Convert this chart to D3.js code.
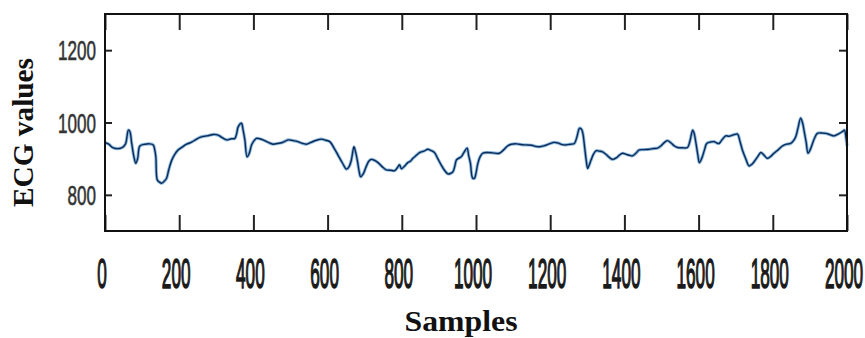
<!DOCTYPE html>
<html>
<head>
<meta charset="utf-8">
<script src="https://cdn.jsdelivr.net/npm/d3@7"></script>
<style>
  html, body { margin: 0; padding: 0; background: #ffffff; }
  svg { display: block; }
</style>
</head>
<body>
<div id="chart"></div>
<script>
// ---- data ----
const sampleIdx = [0,10,22,45,55,63,67,72,78,83,88,94,108,120,130,134,137,141,147,153,160,166,172,180,188,197,208,220,232,244,256,268,280,292,305,316,328,340,350,355,359,368,372,377,383,389,395,402,408,417,426,440,453,465,476,485,494,507,520,530,543,555,570,583,595,606,617,628,640,651,658,664,671,675,680,685,689,696,704,711,718,727,736,747,758,770,781,788,794,799,808,816,823,830,840,848,860,870,878,888,897,906,915,924,931,938,943,947,953,960,968,976,980,985,991,996,1000,1005,1011,1018,1030,1045,1063,1075,1085,1095,1110,1122,1135,1150,1160,1171,1185,1198,1211,1222,1232,1243,1255,1265,1272,1279,1284,1288,1293,1297,1301,1305,1310,1317,1324,1332,1341,1350,1360,1368,1378,1387,1395,1405,1415,1422,1431,1440,1452,1467,1478,1489,1498,1508,1516,1525,1535,1543,1556,1570,1577,1584,1588,1593,1598,1602,1606,1610,1616,1622,1632,1642,1648,1655,1663,1673,1682,1691,1698,1705,1711,1718,1727,1736,1743,1750,1759,1768,1776,1785,1794,1803,1815,1826,1837,1848,1856,1862,1868,1875,1880,1884,1890,1895,1901,1907,1913,1920,1932,1943,1955,1965,1976,1988,1993,1997,2000];
const ecgValues = [945,940,930,930,940,979,975,942,905,887,900,935,940,941,938,925,905,841,835,832,838,846,870,896,912,924,932,940,945,952,959,962,964,967,965,958,952,955,956,970,988,998,980,952,905,915,938,950,956,955,952,945,940,942,944,948,952,950,947,943,940,945,951,954,951,947,930,910,888,871,878,896,933,920,896,865,850,858,878,893,898,895,889,878,869,868,867,875,883,872,880,889,893,901,910,917,921,926,923,917,900,883,868,858,859,864,880,896,901,905,918,929,910,887,846,846,860,887,905,915,917,916,915,925,935,940,941,939,938,937,934,933,936,941,945,943,939,938,940,942,960,984,982,970,930,896,873,882,896,913,922,921,919,912,903,898,902,910,915,912,909,908,915,924,925,926,928,929,935,945,950,944,935,931,930,931,950,979,970,942,910,889,895,905,925,942,946,947,944,942,952,963,962,965,967,968,950,924,900,880,884,892,905,917,910,901,906,915,925,935,940,942,950,961,985,1012,1000,979,945,915,925,942,958,970,971,970,966,963,968,975,979,960,935];
const xTicks = [0,200,400,600,800,1000,1200,1400,1600,1800,2000];
const yTicks = [800,1000,1200];
const xDomain = [0, 2000];
const yDomain = [700, 1300];
const xTitle = "Samples";
const yTitle = "ECG values";

// ---- layout ----
const W = 865, H = 338;
const plot = { left: 105, right: 847, top: 14, bottom: 231 };

const svg = d3.select("#chart").append("svg")
  .attr("width", W).attr("height", H);

const x = d3.scaleLinear().domain(xDomain).range([plot.left, plot.right]);
const y = d3.scaleLinear().domain(yDomain).range([plot.bottom, plot.top]);

const data = sampleIdx.map((s, i) => ({ s, v: ecgValues[i] }));

// ticks (inward, all four sides)
const tickColor = "#222";
svg.append("g").attr("transform", `translate(0,${plot.bottom})`)
  .call(d3.axisBottom(x).tickValues(xTicks).tickSizeInner(-16).tickSizeOuter(0).tickFormat(""))
  .call(g => { g.select(".domain").remove(); g.selectAll("line").attr("stroke", tickColor).attr("stroke-width", 2); });
svg.append("g").attr("transform", `translate(0,${plot.top})`)
  .call(d3.axisTop(x).tickValues(xTicks).tickSizeInner(-16).tickSizeOuter(0).tickFormat(""))
  .call(g => { g.select(".domain").remove(); g.selectAll("line").attr("stroke", tickColor).attr("stroke-width", 2); });
svg.append("g").attr("transform", `translate(${plot.left},0)`)
  .call(d3.axisLeft(y).tickValues(yTicks).tickSizeInner(-7).tickSizeOuter(0).tickFormat(""))
  .call(g => { g.select(".domain").remove(); g.selectAll("line").attr("stroke", tickColor).attr("stroke-width", 2); });
svg.append("g").attr("transform", `translate(${plot.right},0)`)
  .call(d3.axisRight(y).tickValues(yTicks).tickSizeInner(-8).tickSizeOuter(0).tickFormat(""))
  .call(g => { g.select(".domain").remove(); g.selectAll("line").attr("stroke", tickColor).attr("stroke-width", 2); });

// ECG line (soft blue halo + dark navy core)
const line = d3.line().x(d => x(d.s)).y(d => y(d.v)).curve(d3.curveCatmullRom.alpha(0.5));
svg.append("path").datum(data).attr("d", line)
  .attr("fill", "none").attr("stroke", "#5f9fd3").attr("stroke-width", 3.2)
  .attr("stroke-opacity", 0.75).attr("stroke-linejoin", "round");
svg.append("path").datum(data).attr("d", line)
  .attr("fill", "none").attr("stroke", "#0d2a57").attr("stroke-width", 1.4)
  .attr("stroke-linejoin", "round");

// frame
svg.append("rect")
  .attr("x", plot.left).attr("y", plot.top)
  .attr("width", plot.right - plot.left).attr("height", plot.bottom - plot.top)
  .attr("fill", "none").attr("stroke", "#111").attr("stroke-width", 2);

// x tick labels (tall condensed)
const labelFont = "'Liberation Sans', Arial, sans-serif";
svg.append("g").selectAll("g").data(xTicks).join("g")
  .attr("transform", d => `translate(${x(d) - 3},288)`)
  .append("text")
  .attr("transform", "scale(0.40,1)")
  .attr("text-anchor", "middle")
  .attr("font-family", labelFont).attr("font-size", 43)
  .attr("fill", "#1a1a1a").attr("stroke", "#1a1a1a").attr("stroke-width", 1.6)
  .text(d => d);

// y tick labels
svg.append("g").selectAll("g").data(yTicks).join("g")
  .attr("transform", d => `translate(96,${y(d) + 10})`)
  .append("text")
  .attr("transform", "scale(0.61,1)")
  .attr("text-anchor", "end")
  .attr("font-family", labelFont).attr("font-size", 28)
  .attr("fill", "#333").attr("stroke", "#333").attr("stroke-width", 0.6)
  .text(d => d);

// axis titles
const titleFont = "'Liberation Serif', 'Times New Roman', serif";
svg.append("text")
  .attr("x", 461).attr("y", 331)
  .attr("text-anchor", "middle")
  .attr("font-family", titleFont).attr("font-weight", "bold").attr("font-size", 30)
  .attr("textLength", 113).attr("lengthAdjust", "spacingAndGlyphs")
  .attr("fill", "#111")
  .text(xTitle);

svg.append("text")
  .attr("transform", "translate(33,132.5) rotate(-90)")
  .attr("text-anchor", "middle")
  .attr("font-family", titleFont).attr("font-weight", "bold").attr("font-size", 30)
  .attr("textLength", 149).attr("lengthAdjust", "spacingAndGlyphs")
  .attr("fill", "#111")
  .text(yTitle);
</script>
</body>
</html>
